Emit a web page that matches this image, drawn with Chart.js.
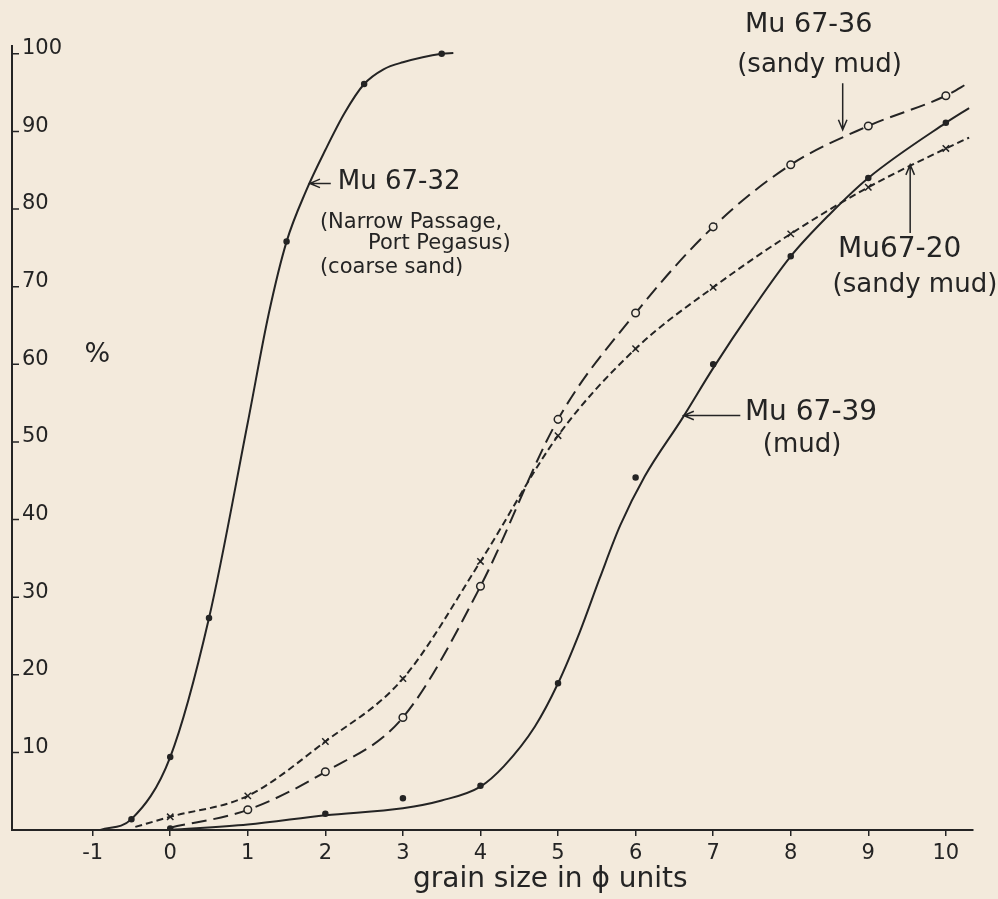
<!DOCTYPE html>
<html>
<head>
<meta charset="utf-8">
<title>grain size in phi units</title>
<script src="https://cdn.jsdelivr.net/npm/chart.js@4.4.1/dist/chart.umd.min.js"></script>
<style>
    html, body { margin: 0; padding: 0; background: #f3eadc; }
    canvas { display: block; }
</style>
</head>
<body>
<canvas id="grainChart" width="998" height="899"></canvas>
<script>
// tick labels
const phiTicks = [-1, 0, 1, 2, 3, 4, 5, 6, 7, 8, 9, 10];
const pctTicks = [10, 20, 30, 40, 50, 60, 70, 80, 90, 100];

// Mu 67-32 (Narrow Passage, Port Pegasus) - measured points and drawn curve
const mu32Phi = [-0.5, 0, 0.5, 1.5, 2.5, 3.5];
const mu32Pct = [1.4, 9.4, 27.3, 75.8, 96.1, 100];
const mu32CurvePhi = [-0.9, -0.5, 0, 0.5, 1.0, 1.27, 1.5, 1.75, 2.0, 2.25, 2.5, 2.75, 3.0, 3.5, 3.65];
const mu32CurvePct = [0, 1.4, 9.4, 27.3, 52.5, 66.5, 75.8, 82.3, 87.6, 92.4, 96.1, 98.0, 98.9, 100, 100.1];

// Mu 67-36 (sandy mud)
const mu36Phi = [1, 2, 3, 4, 5, 6, 7, 8, 9, 10];
const mu36Pct = [2.6, 7.5, 14.5, 31.4, 52.9, 66.6, 77.7, 85.7, 90.7, 94.6];
const mu36CurvePhi = [0, 1, 2, 3, 4, 5, 6, 7, 8, 9, 10, 10.3];
const mu36CurvePct = [0.3, 2.6, 7.5, 14.5, 31.4, 52.9, 66.6, 77.7, 85.7, 90.7, 94.6, 96.3];

// Mu 67-20 (sandy mud)
const mu20Phi = [0, 1, 2, 3, 4, 5, 6, 7, 8, 9, 10];
const mu20Pct = [1.7, 4.4, 11.4, 19.5, 34.6, 50.8, 62.0, 69.9, 76.8, 82.8, 87.8];
const mu20CurvePhi = [-0.45, 0, 1, 2, 3, 4, 5, 6, 7, 8, 9, 10, 10.3];
const mu20CurvePct = [0.4, 1.7, 4.4, 11.4, 19.5, 34.6, 50.8, 62.0, 69.9, 76.8, 82.8, 87.8, 89.2];

// Mu 67-39 (mud)
const mu39Phi = [0, 2, 3, 4, 5, 6, 7, 8, 9, 10];
const mu39Pct = [0.2, 2.1, 4.1, 5.7, 18.9, 45.4, 60.0, 73.9, 84.0, 91.1];
const mu39CurvePhi = [0, 1, 2, 3, 3.5, 4, 4.3, 4.7, 5, 5.28, 5.54, 5.8, 6.12, 6.6, 7, 7.5, 8, 8.5, 9, 10, 10.3];
const mu39CurvePct = [0, 0.7, 1.9, 2.8, 3.8, 5.6, 8.2, 13.3, 18.9, 25.5, 32.5, 39.2, 45.6, 53, 59.5, 67, 73.9, 79.3, 84, 91.1, 93];

const INK = '#242424';
const PAPER = '#f3eadc';
const FONT = '"DejaVu Sans", sans-serif';

function pairs(xs, ys) {
    return xs.map((x, i) => ({ x: x, y: ys[i] }));
}

function curve(xs, ys, dash) {
    return {
        data: pairs(xs, ys),
        borderColor: INK,
        borderWidth: 2,
        borderDash: dash,
        pointRadius: 0,
        cubicInterpolationMode: 'monotone',
        fill: false,
        order: 1
    };
}

function marks(xs, ys, style, radius, fillColor) {
    return {
        data: pairs(xs, ys),
        showLine: false,
        pointStyle: style,
        pointRadius: radius,
        pointBackgroundColor: fillColor,
        pointBorderColor: INK,
        pointBorderWidth: 1.5,
        order: 0
    };
}

// paper background
const paperPlugin = {
    id: 'paper',
    beforeDraw(chart) {
        const ctx = chart.ctx;
        ctx.save();
        ctx.fillStyle = PAPER;
        ctx.fillRect(0, 0, chart.width, chart.height);
        ctx.restore();
    }
};

function arrow(ctx, x1, y1, x2, y2) {
    const ang = Math.atan2(y2 - y1, x2 - x1);
    const head = 11;
    ctx.beginPath();
    ctx.moveTo(x1, y1);
    ctx.lineTo(x2, y2);
    ctx.moveTo(x2 - head * Math.cos(ang - 0.4), y2 - head * Math.sin(ang - 0.4));
    ctx.lineTo(x2, y2);
    ctx.lineTo(x2 - head * Math.cos(ang + 0.4), y2 - head * Math.sin(ang + 0.4));
    ctx.stroke();
}

// labels, arrows, inward y ticks, axis title
const notesPlugin = {
    id: 'notes',
    afterDraw(chart) {
        const ctx = chart.ctx;
        const xs = chart.scales.x;
        const ys = chart.scales.y;
        const px = v => xs.getPixelForValue(v);
        const py = v => ys.getPixelForValue(v);

        ctx.save();
        ctx.strokeStyle = INK;
        ctx.fillStyle = INK;
        ctx.lineWidth = 1.5;

        // small ticks pointing into the plot
        ctx.beginPath();
        pctTicks.forEach(v => {
            ctx.moveTo(chart.chartArea.left, py(v));
            ctx.lineTo(chart.chartArea.left + 7, py(v));
        });
        ctx.stroke();

        const text = (str, x, y, size, align) => {
            ctx.font = size + 'px ' + FONT;
            ctx.textAlign = align || 'left';
            ctx.textBaseline = 'middle';
            ctx.fillText(str, px(x), py(y));
        };

        text('Mu 67-36', 7.41, 103.7, 27);
        text('(sandy mud)', 7.31, 98.5, 26);
        arrow(ctx, px(8.67), py(96.2), px(8.67), py(90.2));

        text('Mu67-20', 8.61, 74.7, 28);
        text('(sandy mud)', 8.54, 70.2, 26);
        arrow(ctx, px(9.54), py(76.9), px(9.54), py(85.7));

        arrow(ctx, px(2.07), py(83.3), px(1.8), py(83.3));
        text('Mu 67-32', 2.16, 83.4, 26);
        text('(Narrow Passage,', 1.93, 78.3, 21);
        text('Port Pegasus)', 2.55, 75.5, 21);
        text('(coarse sand)', 1.93, 72.4, 21);

        arrow(ctx, px(7.35), py(53.4), px(6.62), py(53.4));
        text('Mu 67-39', 7.41, 53.7, 28);
        text('(mud)', 7.64, 49.6, 26);

        text('%', -0.94, 61.2, 27, 'center');
        text('grain size in \u03d5 units', 4.9, -6.4, 28, 'center');

        ctx.restore();
    }
};

document.addEventListener('DOMContentLoaded', function () {
    const ctx = document.getElementById('grainChart').getContext('2d');

    new Chart(ctx, {
        type: 'line',
        data: {
            datasets: [
                curve(mu32CurvePhi, mu32CurvePct, []),
                curve(mu36CurvePhi, mu36CurvePct, [15, 7]),
                curve(mu20CurvePhi, mu20CurvePct, [7, 4]),
                curve(mu39CurvePhi, mu39CurvePct, []),
                marks(mu32Phi, mu32Pct, 'circle', 2.5, INK),
                marks(mu36Phi, mu36Pct, 'circle', 3.8, PAPER),
                marks(mu20Phi, mu20Pct, 'crossRot', 4.5, INK),
                marks(mu39Phi, mu39Pct, 'circle', 2.5, INK)
            ]
        },
        options: {
            responsive: false,
            animation: false,
            devicePixelRatio: 1,
            layout: {
                padding: { left: 12, right: 25, top: 46, bottom: 0 }
            },
            plugins: {
                legend: { display: false },
                tooltip: { enabled: false }
            },
            scales: {
                x: {
                    type: 'linear',
                    min: -2.04,
                    max: 10.35,
                    afterBuildTicks: s => { s.ticks = phiTicks.map(v => ({ value: v })); },
                    afterFit: s => { s.height = 69; },
                    ticks: {
                        color: INK,
                        font: { family: FONT, size: 21 },
                        padding: 5,
                        maxRotation: 0,
                        autoSkip: false
                    },
                    grid: {
                        drawOnChartArea: false,
                        drawTicks: true,
                        tickLength: 6,
                        color: INK,
                        lineWidth: 1.5
                    },
                    border: { display: true, color: INK, width: 2 }
                },
                y: {
                    type: 'linear',
                    min: 0,
                    max: 101,
                    afterBuildTicks: s => { s.ticks = pctTicks.map(v => ({ value: v })); },
                    afterFit: s => { s.width = 0; },
                    ticks: {
                        mirror: true,
                        padding: 10,
                        labelOffset: -5,
                        color: INK,
                        font: { family: FONT, size: 21 }
                    },
                    grid: {
                        drawOnChartArea: false,
                        drawTicks: false
                    },
                    border: { display: true, color: INK, width: 2 }
                }
            }
        },
        plugins: [paperPlugin, notesPlugin]
    });
});
</script>
</body>
</html>
